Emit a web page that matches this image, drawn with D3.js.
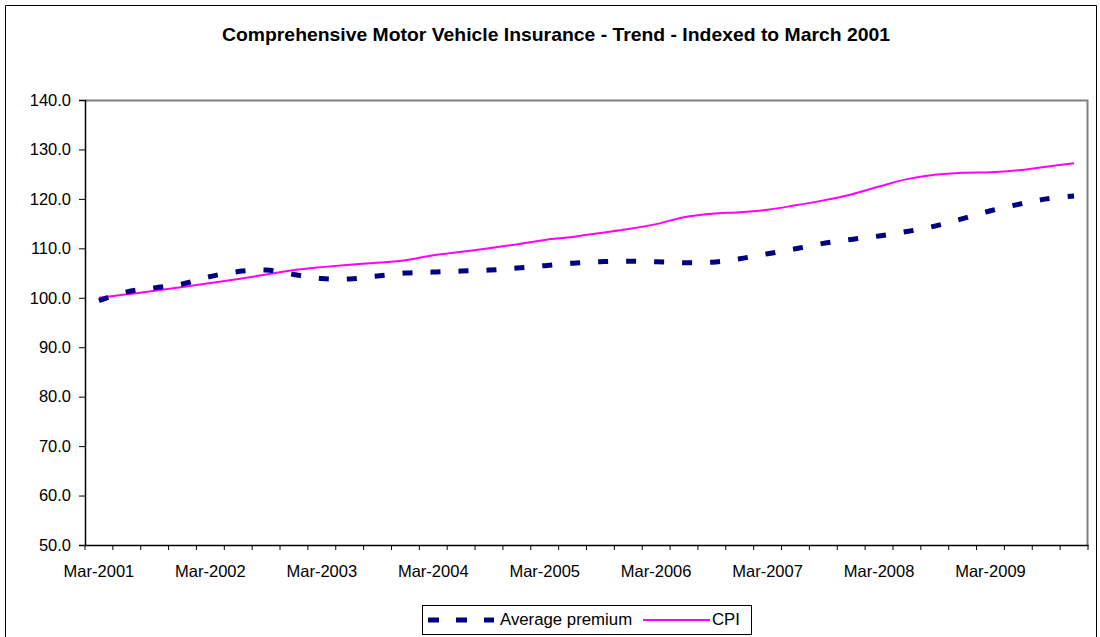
<!DOCTYPE html>
<html>
<head>
<meta charset="utf-8">
<script src="https://cdn.jsdelivr.net/npm/d3@7"></script>
<style>
  body { margin: 0; background: #fff; }
  svg { display: block; font-family: "Liberation Sans", Arial, sans-serif; }
</style>
</head>
<body>
<svg width="1100" height="637"></svg>
<script>
const quarters = [
  'Mar-2001', 'Jun-2001', 'Sep-2001', 'Dec-2001',
  'Mar-2002', 'Jun-2002', 'Sep-2002', 'Dec-2002',
  'Mar-2003', 'Jun-2003', 'Sep-2003', 'Dec-2003',
  'Mar-2004', 'Jun-2004', 'Sep-2004', 'Dec-2004',
  'Mar-2005', 'Jun-2005', 'Sep-2005', 'Dec-2005',
  'Mar-2006', 'Jun-2006', 'Sep-2006', 'Dec-2006',
  'Mar-2007', 'Jun-2007', 'Sep-2007', 'Dec-2007',
  'Mar-2008', 'Jun-2008', 'Sep-2008', 'Dec-2008',
  'Mar-2009', 'Jun-2009', 'Sep-2009', 'Dec-2009'
];

const averagePremium = [
  99.4, 101.2, 102.0, 102.8, 104.3, 105.3, 105.6, 104.7,
  103.9, 103.8, 104.4, 105.0, 105.2, 105.4, 105.6, 106.0,
  106.5, 107.0, 107.3, 107.4, 107.3, 107.1, 107.2, 107.9,
  108.9, 109.9, 111.0, 111.8, 112.5, 113.4, 114.5, 116.0,
  117.6, 118.9, 120.0, 120.6
];

const cpi = [
  100.0, 100.7, 101.4, 102.2, 103.0, 103.8, 104.7, 105.6,
  106.2, 106.7, 107.1, 107.6, 108.6, 109.3, 110.0, 110.8,
  111.7, 112.3, 113.1, 113.9, 114.9, 116.3, 117.0, 117.3,
  117.8, 118.7, 119.7, 120.9, 122.5, 124.0, 124.9, 125.3,
  125.4, 125.8, 126.5, 127.2
];

const yTicks = [50, 60, 70, 80, 90, 100, 110, 120, 130, 140];
const xLabels = ['Mar-2001', 'Mar-2002', 'Mar-2003', 'Mar-2004', 'Mar-2005',
  'Mar-2006', 'Mar-2007', 'Mar-2008', 'Mar-2009'];

const svg = d3.select('svg');
const margin = { top: 100, right: 12, bottom: 92, left: 85 };
const innerWidth = 1100 - margin.left - margin.right;
const innerHeight = 637 - margin.top - margin.bottom;

// outer chart frame (runs past the bottom of the picture)
svg.append('path')
    .attr('d', 'M5.5,637V5.5H1096.5V637')
    .attr('fill', 'none').attr('stroke', '#000').attr('stroke-width', 1);

svg.append('text')
    .attr('x', 556).attr('y', 41)
    .attr('text-anchor', 'middle')
    .attr('font-size', '18.5px').attr('font-weight', 'bold')
    .attr('textLength', 668).attr('lengthAdjust', 'spacingAndGlyphs')
    .text('Comprehensive Motor Vehicle Insurance - Trend - Indexed to March 2001');

const xScale = d3.scaleBand()
    .domain(quarters)
    .range([0, innerWidth])
    .padding(0);

const yScale = d3.scaleLinear()
    .domain([50, 140])
    .range([innerHeight, 0]);

const g = svg.append('g')
    .attr('transform', `translate(${margin.left}, ${margin.top})`);

// plot border (gray top/right)
g.append('path')
    .attr('d', `M0,0.5H${innerWidth - 0.5}V${innerHeight}`)
    .attr('fill', 'none').attr('stroke', '#808080').attr('stroke-width', 2);

// y axis
const yAxis = g.append('g')
    .call(d3.axisLeft(yScale).tickValues(yTicks).tickFormat(d3.format('.1f')).tickSize(6).tickPadding(8));
yAxis.select('.domain').attr('stroke', '#000').attr('stroke-width', 1.5);
yAxis.selectAll('text').attr('font-size', '16.5px').attr('fill', '#000');

// x axis: labels at category centres, tick marks on category boundaries
const xAxis = g.append('g')
    .attr('transform', `translate(0, ${innerHeight})`)
    .call(d3.axisBottom(xScale).tickValues(xLabels).tickSize(0).tickPadding(20));
xAxis.select('.domain').attr('stroke', '#000').attr('stroke-width', 1.5);
xAxis.selectAll('text').attr('font-size', '16.5px').attr('fill', '#000');

const boundaries = quarters.map(q => xScale(q)).concat([innerWidth]);
xAxis.selectAll('line.qtick').data(boundaries)
    .enter().append('line')
        .attr('class', 'qtick')
        .attr('x1', d => d).attr('x2', d => d)
        .attr('y1', 0).attr('y2', 5)
        .attr('stroke', '#000');

const xPos = (d, i) => xScale(quarters[i]) + xScale.bandwidth() / 2;

const line = d3.line()
    .x(xPos)
    .y(d => yScale(d))
    .curve(d3.curveCatmullRom.alpha(0.5));

g.append('path')
    .datum(cpi)
    .attr('d', line)
    .attr('fill', 'none')
    .attr('stroke', '#ff00ff')
    .attr('stroke-width', 2);

g.append('path')
    .datum(averagePremium)
    .attr('d', line)
    .attr('fill', 'none')
    .attr('stroke', '#000080')
    .attr('stroke-width', 5)
    .attr('stroke-dasharray', '10 18');

// legend
const legend = svg.append('g').attr('transform', 'translate(422, 605)');
legend.append('rect')
    .attr('x', 0.5).attr('y', 0.5)
    .attr('width', 329).attr('height', 29)
    .attr('fill', '#fff').attr('stroke', '#000');
legend.append('line')
    .attr('x1', 6).attr('x2', 72).attr('y1', 15).attr('y2', 15)
    .attr('stroke', '#000080').attr('stroke-width', 5)
    .attr('stroke-dasharray', '11 17');
legend.append('text')
    .attr('x', 78).attr('y', 20)
    .attr('font-size', '16.8px')
    .text('Average premium');
legend.append('line')
    .attr('x1', 221).attr('x2', 288).attr('y1', 15).attr('y2', 15)
    .attr('stroke', '#ff00ff').attr('stroke-width', 2);
legend.append('text')
    .attr('x', 290).attr('y', 20)
    .attr('font-size', '16.8px')
    .text('CPI');
</script>
</body>
</html>
